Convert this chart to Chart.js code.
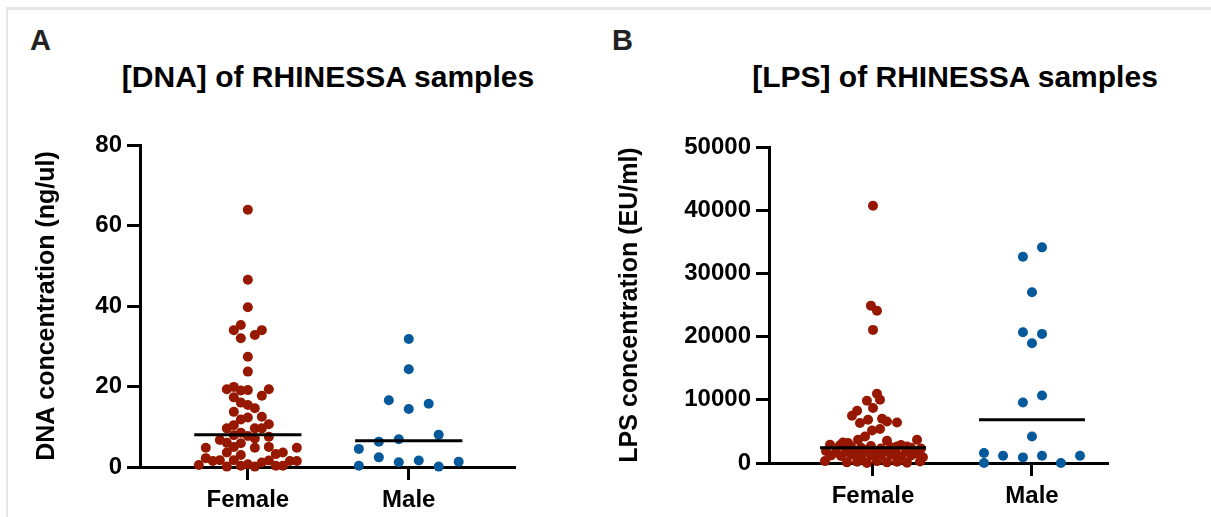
<!DOCTYPE html>
<html><head><meta charset="utf-8">
<script src="https://cdn.jsdelivr.net/npm/chart.js@4.4.1/dist/chart.umd.min.js"></script>
<style>
html,body{margin:0;padding:0;background:#fff;width:1211px;height:517px;overflow:hidden;font-family:"Liberation Sans",Arial,Helvetica,sans-serif;}
#frameTop{position:absolute;left:6px;top:7px;width:1205px;height:3px;background:#e6e6e6}
#frameLeft{position:absolute;left:6px;top:7px;width:2px;height:510px;background:#e6e6e6}
.panel{position:absolute;font-weight:bold;color:#222;font-size:29px;line-height:1}
.title{position:absolute;font-weight:bold;font-size:30px;line-height:1;color:#000;white-space:nowrap;transform:translateX(-50%)}
canvas{position:absolute;top:0}
</style></head>
<body>
<div id="frameTop"></div><div id="frameLeft"></div>
<div class="panel" style="left:30px;top:26px">A</div>
<div class="panel" style="left:612px;top:26px">B</div>
<div class="title" style="left:328px;top:62px">[DNA] of RHINESSA samples</div>
<div class="title" style="left:955px;top:62px">[LPS] of RHINESSA samples</div>
<canvas id="cA" width="600" height="517" style="left:0"></canvas>
<canvas id="cB" width="611" height="517" style="left:600px"></canvas>
<script>
const categories = ['Female', 'Male'];

const dnaFemale = [63.9,46.5,39.7,35.3,34.0,32.0,34.0,32.8,27.4,23.7,
  19.3,19.9,19.0,19.1,19.3,17.3,17.7,16.0,15.4,14.6,
  13.7,11.8,12.3,12.5,10.4,9.6,9.6,9.6,10.6,7.9,
  8.5,7.7,6.7,6.0,5.0,5.9,7.1,7.5,4.8,4.8,
  5.0,4.8,3.6,3.0,3.2,3.6,2.2,1.5,1.7,1.7,
  1.6,1.5,1.5,0.5,0.1,0.3,0.7,0.1,1.1,0.3,0.3];
const dnaFemaleJitterCol = [0,0,0,-1,-2,-1,2,1,0,0,
  -3,-2,-1,0,3,-2,2,-1,0,1,
  -2,-1,0,2,-2,-3,1,2,3,-2,
  -1,0,-4,-3,-2,-1,1,3,-6,1,
  3,7,-3,-1,4,5,-6,-5,-4,-2,
  3,6,7,-7,-3,-1,0,1,2,4,5];
const dnaMale = [31.8,24.3,16.6,14.4,15.7,8.0,6.3,6.9,4.5,2.4,1.2,1.6,0.3,0.1,1.3];
const dnaMaleJitterCol = [0,0,-2,0,2,3,-3,-1,-5,-3,-1,1,-5,3,5];
const dnaMedians = [8.0, 6.5];
const dnaTicks = [0, 20, 40, 60, 80];

const lpsFemale = [40700,24900,24100,21060,10950,10000,9840,8690,8260,7470,
  6840,7000,6570,6410,6320,5370,5150,4200,3680,3520,
  3680,3250,3160,2620,2620,
  2900,2800,2600,2400,2700,2300,2500,2850,2400,2300,
  1900,1700,1800,1600,2000,1700,1900,1600,1800,1500,
  1200,1100,1300,1000,1200,1100,1300,1000,1200,900,
  300,100,200,0,300,100,200,50,250];
const lpsFemaleJitter = [0,-0.013,0.025,0,0.025,0.044,-0.038,0,-0.10,-0.132,
  -0.031,0.057,0.088,0.151,-0.082,0.044,-0.006,-0.05,-0.094,0.088,
  0.277,-0.189,-0.157,0.214,0.151,
  -0.27,-0.208,-0.138,-0.075,-0.013,0.05,0.113,0.176,0.239,0.302,
  -0.296,-0.233,-0.17,-0.107,-0.044,0.019,0.082,0.145,0.208,0.27,
  -0.264,-0.201,-0.138,-0.075,-0.013,0.05,0.113,0.176,0.239,0.314,
  -0.302,-0.164,-0.1,-0.038,0.025,0.088,0.151,0.214,0.296];
const lpsMale = [34120,32640,27010,20690,20430,18960,10680,9570,4200,1580,1150,890,1150,1150,0,0];
const lpsMaleJitter = [0.063,-0.057,0,-0.057,0.063,0,0.063,-0.057,0,-0.302,-0.182,-0.057,0.063,0.302,-0.302,0.182];
const lpsMedians = [2400, 6850];
const lpsTicks = [0, 10000, 20000, 30000, 40000, 50000];

const RED = '#961800', BLUE = '#065a9c';
const FONT = '"Liberation Sans", Arial, Helvetica, sans-serif';

function build(id, o) {
  const pts = (vals, jit, cat) => vals.map((v, i) => ({x: cat + jit[i], y: v}));
  const med = (m, cat) => [{x: cat - 0.333, y: m}, {x: cat + 0.333, y: m}];
  const tickFont = {family: FONT, size: 24, weight: 'bold'};
  return new Chart(document.getElementById(id), {
    type: 'scatter',
    data: {datasets: [
      {type: 'line', data: med(o.medians[0], 0), borderColor: '#000', borderWidth: 3, pointRadius: 0, clip: false},
      {type: 'line', data: med(o.medians[1], 1), borderColor: '#000', borderWidth: 3, pointRadius: 0, clip: false},
      {data: pts(o.female, o.fJit, 0), backgroundColor: RED, pointRadius: 5, borderWidth: 0, clip: false},
      {data: pts(o.male, o.mJit, 1), backgroundColor: BLUE, pointRadius: 5, borderWidth: 0, clip: false}
    ]},
    options: {
      responsive: false, animation: false, events: [],
      layout: {padding: {top: o.top, right: o.right, left: 0, bottom: 0}},
      plugins: {legend: {display: false}, tooltip: {enabled: false}, title: {display: false}},
      scales: {
        x: {
          type: 'linear', min: o.xmin, max: o.xmax,
          afterBuildTicks: a => { a.ticks = categories.map((c, i) => ({value: i})); },
          afterFit: a => { a.height = o.xh; },
          ticks: {callback: v => categories[v], color: '#000', font: {family: FONT, size: 24, weight: 'bold'}, padding: 6, maxRotation: 0, autoSkip: false},
          grid: {drawOnChartArea: false, drawTicks: true, tickLength: 13, tickWidth: 3, tickColor: '#000'},
          border: {display: true, color: '#000', width: 3}
        },
        y: {
          type: 'linear', min: o.ymin, max: o.ymax,
          afterBuildTicks: a => { a.ticks = o.ticks.map(v => ({value: v})); },
          afterFit: a => { a.width = o.yw; },
          ticks: {callback: v => String(v), color: '#000', font: tickFont, padding: 5},
          grid: {drawOnChartArea: false, drawTicks: true, tickLength: 13, tickWidth: 3, tickColor: '#000'},
          border: {display: true, color: '#000', width: 3},
          title: {display: true, text: o.ytitle, color: '#000', font: {family: FONT, size: 25, weight: 'bold'}, padding: {top: o.ytp, bottom: 0}}
        }
      }
    }
  });
}

build('cA', {
  female: dnaFemale, fJit: dnaFemaleJitterCol.map(c => c * 0.0435),
  male: dnaMale, mJit: dnaMaleJitterCol.map(c => c * 0.062),
  medians: dnaMedians, ticks: dnaTicks, ymin: 0, ymax: 80,
  xmin: -0.67, xmax: 1.66, top: 145, right: 85, xh: 50, yw: 140, ytp: 32,
  ytitle: 'DNA concentration (ng/ul)'
});
build('cB', {
  female: lpsFemale, fJit: lpsFemaleJitter,
  male: lpsMale, mJit: lpsMaleJitter,
  medians: lpsMedians, ticks: lpsTicks, ymin: 0, ymax: 50000,
  xmin: -0.654, xmax: 1.478, top: 147, right: 103, xh: 54, yw: 169, ytp: 15,
  ytitle: 'LPS concentration (EU/ml)'
});
</script>
</body></html>
